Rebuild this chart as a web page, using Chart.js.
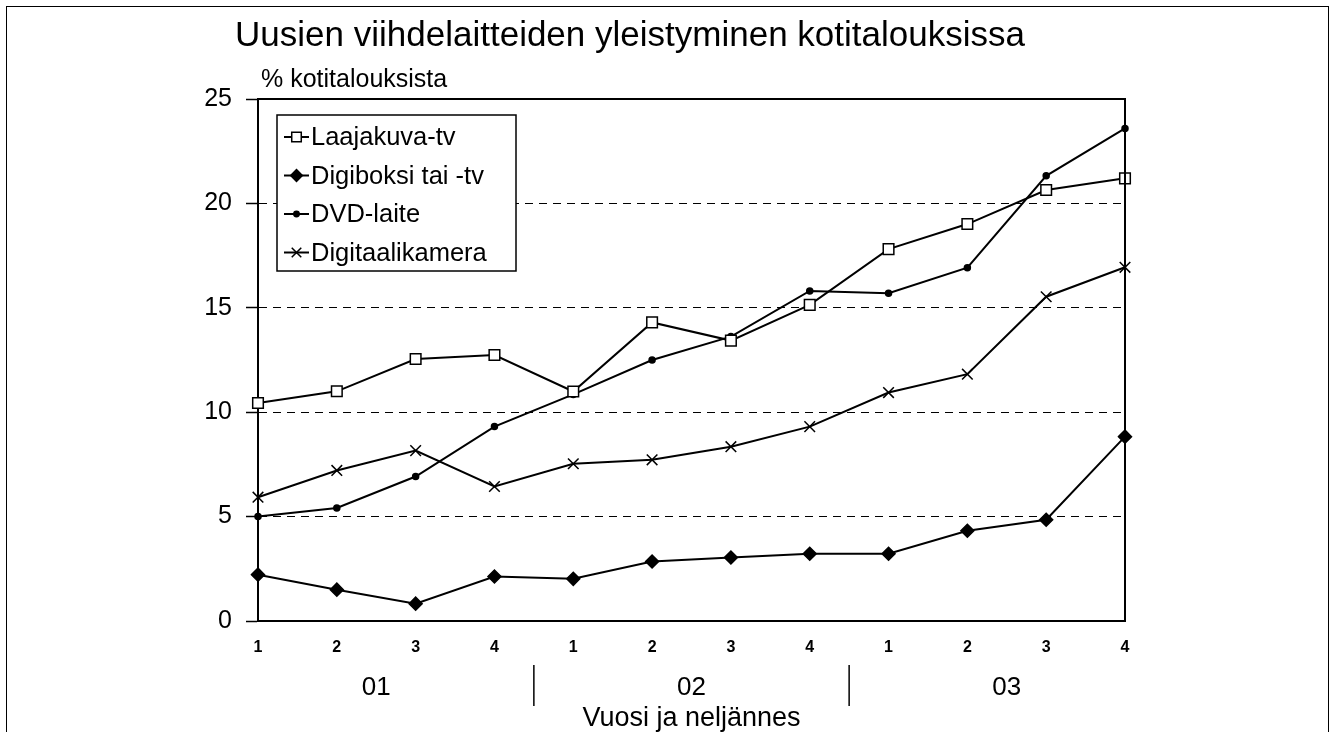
<!DOCTYPE html>
<html>
<head>
<meta charset="utf-8">
<script src="https://cdn.jsdelivr.net/npm/chart.js@4.4.1/dist/chart.umd.min.js"></script>
<style>
  html, body { margin: 0; padding: 0; background: #fff; }
  #wrap { position: relative; width: 1332px; height: 732px; overflow: hidden; }
  #frame { position: absolute; left: 6px; top: 6px; width: 1323px; height: 740px; border: 1px solid #000; border-bottom: none; box-sizing: border-box; }
  canvas { position: absolute; left: 0; top: 0; }
</style>
</head>
<body>
<div id="wrap">
  <canvas id="chart" width="1332" height="732"></canvas>
  <div id="frame"></div>
</div>
<script>
// neljännekset ja vuodet
const quarters = ['1', '2', '3', '4', '1', '2', '3', '4', '1', '2', '3', '4'];
const years = ['01', '02', '03'];

// % kotitalouksista
const laajakuva = [10.44, 11.0, 12.55, 12.74, 10.99, 14.3, 13.43, 15.14, 17.81, 19.01, 20.64, 21.2];
const digiboksi = [2.22, 1.5, 0.83, 2.13, 2.02, 2.85, 3.04, 3.22, 3.22, 4.32, 4.85, 8.83];
const dvd = [5.0, 5.41, 6.92, 9.31, 10.85, 12.5, 13.62, 15.81, 15.7, 16.92, 21.32, 23.59];
const kamera = [5.93, 7.21, 8.16, 6.44, 7.53, 7.72, 8.35, 9.31, 10.94, 11.82, 15.53, 16.94];

const FONT = '"Liberation Sans", Arial, sans-serif';
const NARROW = '"Liberation Sans Narrow", "Liberation Sans", Arial, sans-serif';

function series(label, data, style, radius, fill) {
  return {
    label, data,
    borderColor: '#000', borderWidth: 2, tension: 0, clip: false,
    pointStyle: style, pointRadius: radius, pointHoverRadius: radius,
    pointBackgroundColor: fill, pointBorderColor: '#000', pointBorderWidth: 1.5
  };
}

// kehys, otsikot, vuosiryhmät ja selite
const extras = {
  id: 'extras',
  afterDatasetsDraw(chart) {
    const { ctx, chartArea: a, scales: { x } } = chart;
    ctx.save();
    ctx.strokeStyle = '#000';
    ctx.lineWidth = 2;
    ctx.beginPath();
    ctx.moveTo(a.left, a.top); ctx.lineTo(a.right, a.top); ctx.lineTo(a.right, a.bottom);
    ctx.stroke();

    ctx.fillStyle = '#000';
    ctx.font = '35px ' + FONT;
    ctx.textAlign = 'center';
    ctx.textBaseline = 'alphabetic';
    ctx.fillText('Uusien viihdelaitteiden yleistyminen kotitalouksissa', 630, 46);
    ctx.font = '25px ' + FONT;
    ctx.textAlign = 'left';
    ctx.fillText('% kotitalouksista', 261, 87);

    ctx.textAlign = 'center';
    ctx.textBaseline = 'middle';
    ctx.font = '26px ' + NARROW;
    ctx.lineWidth = 1.5;
    years.forEach((yr, i) => {
      const cx = (x.getPixelForValue(4 * i + 1) + x.getPixelForValue(4 * i + 2)) / 2;
      ctx.fillText(yr, cx, 688);
      if (i < years.length - 1) {
        const sx = (x.getPixelForValue(4 * i + 3) + x.getPixelForValue(4 * i + 4)) / 2;
        ctx.beginPath(); ctx.moveTo(sx, 665); ctx.lineTo(sx, 706); ctx.stroke();
      }
    });

    // selite
    const bx = 277, by = 115, bw = 239, bh = 156;
    ctx.fillStyle = '#fff';
    ctx.fillRect(bx, by, bw, bh);
    ctx.lineWidth = 1.5;
    ctx.strokeRect(bx, by, bw, bh);
    ctx.font = '25.5px ' + FONT;
    ctx.textAlign = 'left';
    chart.data.datasets.forEach((ds, i) => {
      const y = by + 22 + i * 38.5;
      ctx.strokeStyle = '#000';
      ctx.lineWidth = 2;
      ctx.beginPath(); ctx.moveTo(bx + 7, y); ctx.lineTo(bx + 32, y); ctx.stroke();
      ctx.fillStyle = ds.pointBackgroundColor;
      ctx.lineWidth = 1.5;
      Chart.helpers.drawPoint(ctx, { pointStyle: ds.pointStyle, radius: ds.pointRadius * 0.9, rotation: 0, borderWidth: 1.5 }, bx + 19.5, y);
      ctx.fillStyle = '#000';
      ctx.fillText(ds.label, bx + 34, y + 1);
    });
    ctx.restore();
  }
};

new Chart(document.getElementById('chart'), {
  type: 'line',
  data: {
    labels: quarters,
    datasets: [
      series('Laajakuva-tv', laajakuva, 'rect', 7.5, '#fff'),
      series('Digiboksi tai -tv', digiboksi, 'rectRot', 6.5, '#000'),
      series('DVD-laite', dvd, 'circle', 3, '#000'),
      series('Digitaalikamera', kamera, 'crossRot', 7.5, '#000')
    ]
  },
  options: {
    responsive: false,
    animation: false,
    layout: { padding: { left: 0, right: 207, top: 99, bottom: -3 } },
    plugins: { legend: { display: false }, tooltip: { enabled: false }, title: { display: false } },
    scales: {
      x: {
        type: 'category',
        offset: false,
        grid: { display: false, drawTicks: false },
        border: { display: true, color: '#000', width: 2 },
        ticks: { color: '#000', font: { family: NARROW, size: 16, weight: 'bold' }, padding: 17, autoSkip: false, maxRotation: 0 },
        title: { display: true, text: 'Vuosi ja neljännes', color: '#000', font: { family: FONT, size: 27 }, padding: { top: 0, bottom: 0 } },
        afterFit: s => { s.height = 114; }
      },
      y: {
        min: 0, max: 25,
        ticks: { stepSize: 5, color: '#000', font: { family: FONT, size: 25 }, padding: 14 },
        grid: {
          color: c => (c.tick && (c.tick.value === 0 || c.tick.value === 25)) ? 'rgba(0,0,0,0)' : '#000',
          lineWidth: 1, drawTicks: true, tickLength: 12, tickColor: '#000', tickWidth: 1.5, tickBorderDash: []
        },
        border: { display: true, color: '#000', width: 2, dash: [8, 6] },
        afterFit: s => { s.width = 258; }
      }
    }
  },
  plugins: [extras]
});
</script>
</body>
</html>
